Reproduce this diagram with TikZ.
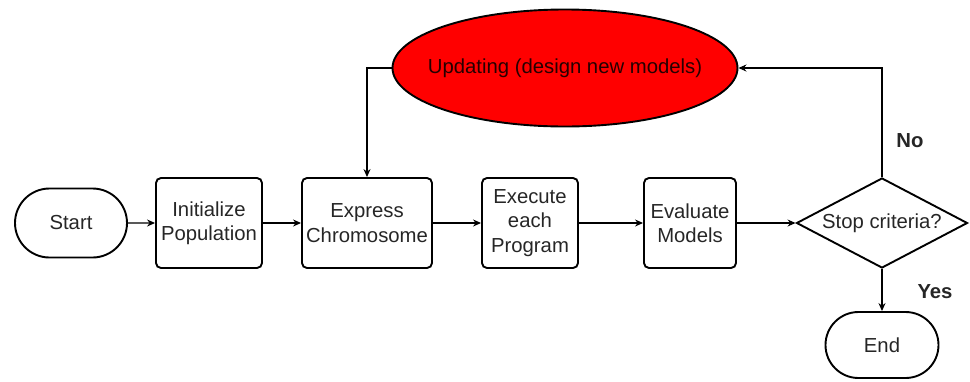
\documentclass[tikz,border=0pt]{standalone}
\usepackage{fontspec}
\setmainfont{Liberation Sans}
\usetikzlibrary{shapes.geometric,shapes.misc,arrows.meta}
\begin{document}
\begin{tikzpicture}[x=1pt,y=-1pt,
  every node/.style={font=\fontsize{20.3}{24.5}\selectfont, text=black!85, align=center, inner sep=0pt},
  box/.style={draw, line width=1.9pt, rounded corners=5pt, minimum height=90pt},
  term/.style={draw, rounded rectangle, line width=1.9pt},
  conn/.style={line width=1.2pt, -{Stealth[length=8pt,width=7pt]}},
  lbl/.style={font=\fontsize{20.3}{24}\selectfont\bfseries}
]
\useasboundingbox (0,0) rectangle (970,381);
\node[term, minimum width=112pt, minimum height=69pt] (start) at (71,223) {Start};
\node[box, minimum width=106pt] (init) at (209,223) {Initialize\\Population};
\node[box, minimum width=130pt] (expr) at (367,223) {Express\\Chromosome};
\node[box, minimum width=96pt] (exec) at (530,223) {Execute\\each\\Program};
\node[box, minimum width=92pt] (eval) at (690,223) {Evaluate\\Models};
\node[draw, diamond, line width=1.9pt, minimum width=171pt, minimum height=90pt] (stop) at (882,223) {};
\node (stoptxt) at (stop.center) {Stop criteria?};
\node[term, minimum width=113pt, minimum height=66pt] (end) at (882,345) {End};
\node[draw, ellipse, line width=1.9pt, fill={rgb,255:red,255;green,0;blue,0}, minimum width=345pt, minimum height=117pt] (upd) at (565,68) {};
\node[text=black!85!red] (updtxt) at (upd.center) {Updating (design new models)};
\node[lbl] (no) at (910,141) {No};
\node[lbl] (yes) at (935,292) {Yes};
\draw[conn] (start) -- (init);
\draw[conn] (init) -- (expr);
\draw[conn] (expr) -- (exec);
\draw[conn] (exec) -- (eval);
\draw[conn] (eval) -- (stop.west);
\draw[conn] (stop.south) -- (end.north);
\draw[conn] (stop.north) |- (upd.east);
\draw[conn] (upd.west) -| (expr.north);
\end{tikzpicture}
\end{document}
